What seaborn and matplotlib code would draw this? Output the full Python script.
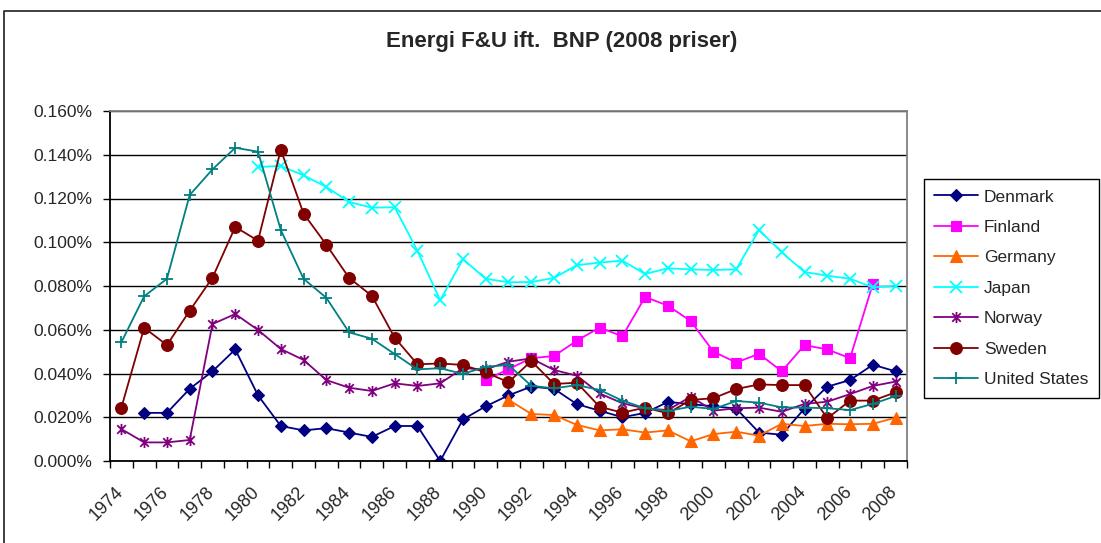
"""Energi F&U ift. BNP (2008 priser) - line chart per country."""
import matplotlib.pyplot as plt
import matplotlib.transforms as mtransforms
import numpy as np
import pandas as pd
import seaborn as sns
from matplotlib.lines import Line2D
from matplotlib.path import Path
from matplotlib.ticker import FixedLocator, FuncFormatter

nan = np.nan
years = list(range(1974, 2009))
countries = ["Denmark", "Finland", "Germany", "Japan", "Norway", "Sweden", "United States"]

# values in percent of GDP
denmark = [nan, 0.022, 0.022, 0.033, 0.041, 0.051, 0.030, 0.016, 0.014, 0.015,
           0.013, 0.011, 0.016, 0.016, 0.000, 0.019, 0.025, 0.030, 0.034, 0.033,
           0.026, 0.023, 0.020, 0.022, 0.027, 0.026, 0.025, 0.024, 0.013, 0.012,
           0.024, 0.034, 0.037, 0.044, 0.041]
finland = [nan] * 16 + [0.037, 0.042, 0.047, 0.048, 0.055, 0.061, 0.057, 0.075,
                        0.071, 0.064, 0.050, 0.045, 0.049, 0.041, 0.053, 0.051,
                        0.047, 0.081, nan]
germany = [nan] * 17 + [0.028, 0.0215, 0.021, 0.0165, 0.014, 0.0145, 0.013,
                        0.014, 0.009, 0.0123, 0.0134, 0.0116, 0.017, 0.016,
                        0.017, 0.0168, 0.017, 0.0198]
japan = [nan] * 6 + [0.1344, 0.1349, 0.1306, 0.1253, 0.1184, 0.1158, 0.1160,
                     0.0961, 0.0735, 0.0923, 0.0833, 0.0817, 0.0818, 0.0837,
                     0.0895, 0.0907, 0.0916, 0.0855, 0.0881, 0.0876, 0.0873,
                     0.0876, 0.1056, 0.0954, 0.0864, 0.0847, 0.0833, 0.0794,
                     0.0801]
norway = [0.0146, 0.0085, 0.0085, 0.0096, 0.0626, 0.0672, 0.0599, 0.0512, 0.0462,
          0.0370, 0.0335, 0.0320, 0.0355, 0.0343, 0.0355, 0.0424, 0.0419, 0.0454,
          0.0469, 0.0416, 0.0390, 0.0309, 0.0264, 0.0240, 0.0233, 0.0294, 0.0230,
          0.0241, 0.0244, 0.0225, 0.0261, 0.0271, 0.0306, 0.0343, 0.0363]
sweden = [0.0244, 0.0609, 0.0530, 0.0687, 0.0838, 0.1070, 0.1007, 0.1423, 0.1131,
          0.0989, 0.0837, 0.0755, 0.0564, 0.0442, 0.0446, 0.0439, 0.0405, 0.0360,
          0.0457, 0.0352, 0.0358, 0.0248, 0.0221, 0.0244, 0.0218, 0.0279, 0.0287,
          0.0329, 0.0350, 0.0347, 0.0347, 0.0195, 0.0276, 0.0276, 0.0314]
united_states = [0.0543, 0.0753, 0.0833, 0.1216, 0.1333, 0.1432, 0.1414, 0.1056,
                 0.0833, 0.0746, 0.0588, 0.0559, 0.0489, 0.0419, 0.0424, 0.0398,
                 0.0431, 0.0439, 0.0344, 0.0332, 0.0347, 0.0325, 0.0276, 0.0241,
                 0.0229, 0.0248, 0.0238, 0.0274, 0.0267, 0.0245, 0.0244, 0.0241,
                 0.0233, 0.0261, 0.0297]

series = [denmark, finland, germany, japan, norway, sweden, united_states]
y_ticks = [0.000, 0.020, 0.040, 0.060, 0.080, 0.100, 0.120, 0.140, 0.160]
x_labels = list(range(1974, 2009, 2))

colors = {"Denmark": "#000080", "Finland": "#FF00FF", "Germany": "#FF6600",
          "Japan": "#00FFFF", "Norway": "#800080", "Sweden": "#800000",
          "United States": "#008080"}

# Excel-style star: x with a vertical bar
star = Path([(-1, -1), (1, 1), (-1, 1), (1, -1), (0, -1.3), (0, 1.3)],
            [Path.MOVETO, Path.LINETO, Path.MOVETO, Path.LINETO, Path.MOVETO, Path.LINETO])
markers = {"Denmark": "D", "Finland": "s", "Germany": "^", "Japan": "x",
           "Norway": star, "Sweden": "o", "United States": "+"}
msizes = {"Denmark": 6.5, "Finland": 7.5, "Germany": 8, "Japan": 8,
          "Norway": 8, "Sweden": 8.5, "United States": 8}
thin_markers = ("Japan", "Norway", "United States")

df = pd.DataFrame(
    [(c, y, v) for c, vals in zip(countries, series) for y, v in zip(years, vals)],
    columns=["country", "year", "value"],
).dropna()

sns.set_style("white")
plt.rcParams["font.family"] = ["Liberation Sans", "DejaVu Sans"]

fig = plt.figure(figsize=(11.01, 5.43), dpi=100)
ax = fig.add_axes([110 / 1101, 1 - 461 / 543, 797 / 1101, 350 / 543])

for c in countries:
    sub = df[df["country"] == c]
    sns.lineplot(data=sub, x="year", y="value", color=colors[c], marker=markers[c],
                 ms=msizes[c], mec=colors[c], mfc=colors[c],
                 mew=1.3 if c in thin_markers else 0.8,
                 lw=1.3, errorbar=None, ax=ax)

ax.set_xlim(1973.5, 2008.5)
ax.set_ylim(0, 0.16)
ax.set_xlabel("")
ax.set_ylabel("")

ax.set_yticks(y_ticks)
ax.yaxis.set_major_formatter(FuncFormatter(lambda v, p: f"{v:.3f}%"))
ax.tick_params(axis="y", which="major", left=True, length=5, width=1,
               color="black", pad=8, labelsize=12.5)
ax.grid(axis="y", color="black", lw=1.0)
ax.set_axisbelow(True)

ax.set_xticks(x_labels)
ax.set_xticklabels([str(y) for y in x_labels], rotation=45, ha="right")
ax.xaxis.set_minor_locator(FixedLocator(np.arange(1973.5, 2009, 1.0)))
ax.tick_params(axis="x", which="major", bottom=True, length=0, pad=16, labelsize=13)
ax.tick_params(axis="x", which="minor", bottom=True, length=5, width=1, color="black")
shift = mtransforms.ScaledTranslation(5 / 100, 0, fig.dpi_scale_trans)
for lab in ax.get_xticklabels():
    lab.set_transform(lab.get_transform() + shift)

for side in ("left", "bottom"):
    ax.spines[side].set_color("black")
    ax.spines[side].set_linewidth(1.3)
for side in ("top", "right"):
    ax.spines[side].set_color("#808080")
    ax.spines[side].set_linewidth(1.3)

handles = [Line2D([], [], color=colors[c], marker=markers[c], ms=msizes[c],
                  mec=colors[c], mfc=colors[c], lw=1.3,
                  mew=1.3 if c in thin_markers else 0.8)
           for c in countries]
leg = fig.legend(handles, countries, loc="upper left",
                 bbox_to_anchor=(924 / 1101, 1 - 179 / 543), fontsize=12.5,
                 frameon=True, fancybox=False, edgecolor="black", framealpha=1,
                 handlelength=2.5, handletextpad=0.35, labelspacing=0.88,
                 borderpad=0.6, borderaxespad=0)
leg.get_frame().set_linewidth(1.0)

fig.text(562 / 1101, 1 - 42 / 543, "Energi F&U ift.  BNP (2008 priser)",
         ha="center", va="center", fontsize=16, fontweight="bold")

# chart area border (top and left edges visible)
fig.add_artist(Line2D([4 / 1101, 4 / 1101, 1.0], [0.0, 1 - 10.5 / 543, 1 - 10.5 / 543],
                      transform=fig.transFigure, color="#303030", lw=1.3))

fig.savefig("out.png", dpi=100)
